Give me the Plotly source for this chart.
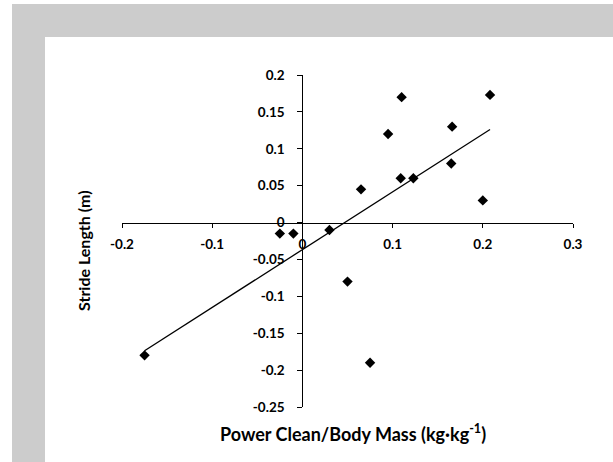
import numpy as np
import plotly.graph_objects as go

# Data
power_clean_bm = [-0.175, -0.025, -0.010, 0.030, 0.050, 0.075, 0.065, 0.095,
                  0.110, 0.109, 0.123, 0.165, 0.166, 0.200, 0.208]
stride_length = [-0.180, -0.015, -0.015, -0.010, -0.080, -0.190, 0.045, 0.120,
                 0.170, 0.060, 0.060, 0.080, 0.130, 0.030, 0.173]

x_ticks = [-0.2, -0.1, 0, 0.1, 0.2, 0.3]
x_tick_text = ["-0.2", "-0.1", "0", "0.1", "0.2", "0.3"]
y_ticks = [-0.25, -0.2, -0.15, -0.1, -0.05, 0, 0.05, 0.1, 0.15, 0.2]
y_tick_text = ["-0.25", "-0.2", "-0.15", "-0.1", "-0.05", "0", "0.05", "0.1", "0.15", "0.2"]

x_title = "Power Clean/Body Mass (kg·kg<sup>-1</sup>)"
y_title = "Stride Length (m)"

# Linear trendline (least squares) over the data range
slope, intercept = np.polyfit(power_clean_bm, stride_length, 1)
trend_x = [min(power_clean_bm), max(power_clean_bm)]
trend_y = [slope * v + intercept for v in trend_x]

FONT = "Lato"
X_RANGE = [-0.2, 0.3]
Y_RANGE = [-0.25, 0.2]

fig = go.Figure()
fig.add_trace(go.Scatter(x=trend_x, y=trend_y, mode="lines",
                         line=dict(color="black", width=1.3),
                         hoverinfo="skip", showlegend=False))
fig.add_trace(go.Scatter(x=power_clean_bm, y=stride_length, mode="markers",
                         marker=dict(symbol="diamond", size=8, color="black"),
                         showlegend=False))

W, H = 613, 462
L, R, T, B = 122, 40, 75, 55
pw, ph = W - L - R, H - T - B


def px2paper_x(px):
    return (px - L) / pw


def py2paper_y(py):
    return (H - B - py) / ph


gray = "#cccccc"
shapes = [
    dict(type="rect", xref="paper", yref="paper", layer="below",
         x0=px2paper_x(12), x1=px2paper_x(640), y0=py2paper_y(37), y1=py2paper_y(4),
         fillcolor=gray, line=dict(width=0)),
    dict(type="rect", xref="paper", yref="paper", layer="below",
         x0=px2paper_x(12), x1=px2paper_x(45), y0=py2paper_y(480), y1=py2paper_y(4),
         fillcolor=gray, line=dict(width=0)),
]

x_pos = (0 - Y_RANGE[0]) / (Y_RANGE[1] - Y_RANGE[0])
y_pos = (0 - X_RANGE[0]) / (X_RANGE[1] - X_RANGE[0])

tickfont = dict(family=FONT, size=13.5, color="black", weight="bold")

fig.update_layout(
    width=W, height=H,
    margin=dict(l=L, r=R, t=T, b=B, pad=0),
    paper_bgcolor="white", plot_bgcolor="rgba(0,0,0,0)",
    shapes=shapes,
    xaxis=dict(range=X_RANGE, anchor="free", position=x_pos,
               tickvals=x_ticks, ticktext=x_tick_text,
               showgrid=False, zeroline=False, showline=True,
               linecolor="black", linewidth=1.3,
               ticks="outside", ticklen=4, tickwidth=1.3, tickcolor="black",
               tickfont=tickfont, ticklabelstandoff=5),
    yaxis=dict(range=Y_RANGE, anchor="free", position=y_pos,
               tickvals=y_ticks, ticktext=y_tick_text,
               showgrid=False, zeroline=False, showline=True,
               linecolor="black", linewidth=1.3,
               ticks="outside", ticklen=5, tickwidth=1.3, tickcolor="black",
               tickfont=tickfont, ticklabelstandoff=10),
    annotations=[
        dict(text=x_title, xref="paper", yref="paper",
             x=px2paper_x(352.5), y=py2paper_y(433),
             xanchor="center", yanchor="middle", showarrow=False,
             font=dict(family=FONT, size=18, color="black", weight="bold")),
        dict(text=y_title, xref="paper", yref="paper",
             x=px2paper_x(84), y=py2paper_y(251), textangle=-90,
             xanchor="center", yanchor="middle", showarrow=False,
             font=dict(family=FONT, size=16, color="black", weight="bold")),
    ],
)

fig.write_html("out.html", config={"displayModeBar": False},
               post_script="document.body.style.margin='0px';")
